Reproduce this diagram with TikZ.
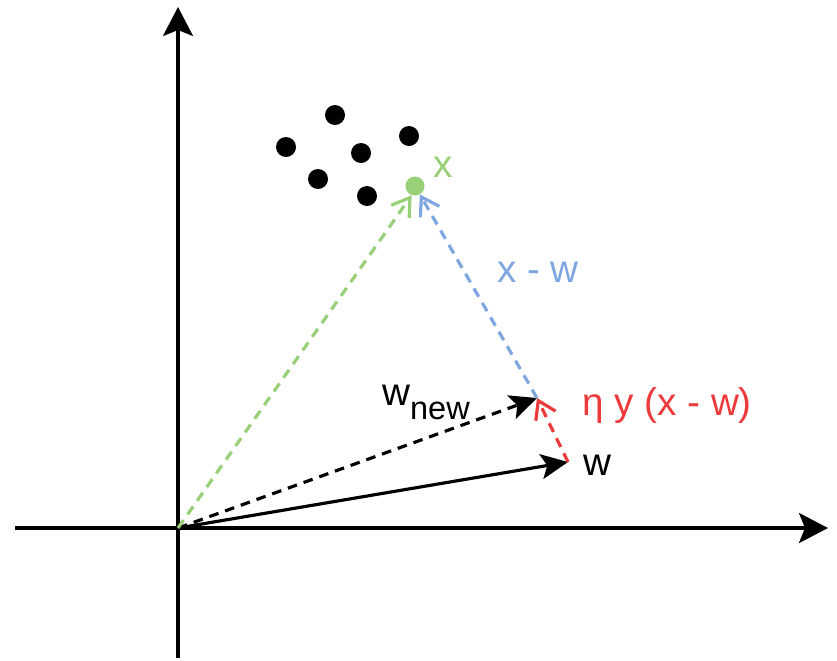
\documentclass[tikz,border=0pt]{standalone}
\usepackage{fontspec}
\setmainfont{Liberation Sans}
\usetikzlibrary{arrows.meta}
\definecolor{dgreen}{RGB}{151,208,119}
\definecolor{dblue}{RGB}{126,166,224}
\definecolor{dred}{RGB}{236,58,58}
\tikzset{ax/.style={line width=1.8pt,-{Stealth[length=5.8mm,width=6mm,inset=1.2mm]}},
 vec/.style={line width=1.8pt,-{Stealth[length=5.4mm,width=5mm,inset=1.2mm]}},
 dvec/.style={vec,dash pattern=on 5.5pt off 4pt},
 open/.style={line width=1.8pt,dash pattern=on 5.5pt off 4pt,
  -{Straight Barb[length=3.4mm,width=4.4mm]}},
 pt/.style={circle,fill=black,inner sep=0pt,minimum size=0.4cm},
 lab/.style={font=\fontsize{22}{26}\selectfont,inner sep=0pt}}

\begin{document}
\begin{tikzpicture}[x=0.02cm,y=-0.02cm]
\useasboundingbox (0,0) rectangle (837,660);
% axes
\coordinate (o) at (178,528);
\coordinate (xl) at (15,528);
\coordinate (xr) at (828,528);
\coordinate (yb) at (178,658);
\coordinate (yt) at (178,7);
\draw[ax] (xl)--(xr);
\draw[ax] (yb)--(yt);
% data points
\node[pt] (p1) at (286,147) {};
\node[pt] (p2) at (335,115) {};
\node[pt] (p3) at (409,136) {};
\node[pt] (p4) at (361,153) {};
\node[pt] (p5) at (318,179) {};
\node[pt] (p6) at (367,196) {};
\node[circle,fill=dgreen,inner sep=0pt,minimum size=0.38cm] (x) at (415,186) {};
\node[lab,text=dgreen] (xlab) at (443,167) {x};
% vectors
\coordinate (w) at (568,462);
\coordinate (wn) at (537,398);
\draw[vec] (o)--(w);
\draw[dvec] (o)--(wn);
\draw[open,draw=dred] (w)--(wn);
\draw[open,draw=dblue] (wn)--(x.300);
\draw[open,draw=dgreen] (o)--(x.250);
% labels
\node[lab] (wlab) at (597,465) {w};
\node[lab] (wnlab) at (426,402) {w\raisebox{-0.36em}{\fontsize{18.5}{21}\selectfont new}};
\node[lab,text=dred] (dlab) at (667,405) {η y (x - w)};
\node[lab,text=dblue] (xwlab) at (538,272) {x - w};
\end{tikzpicture}
\end{document}
